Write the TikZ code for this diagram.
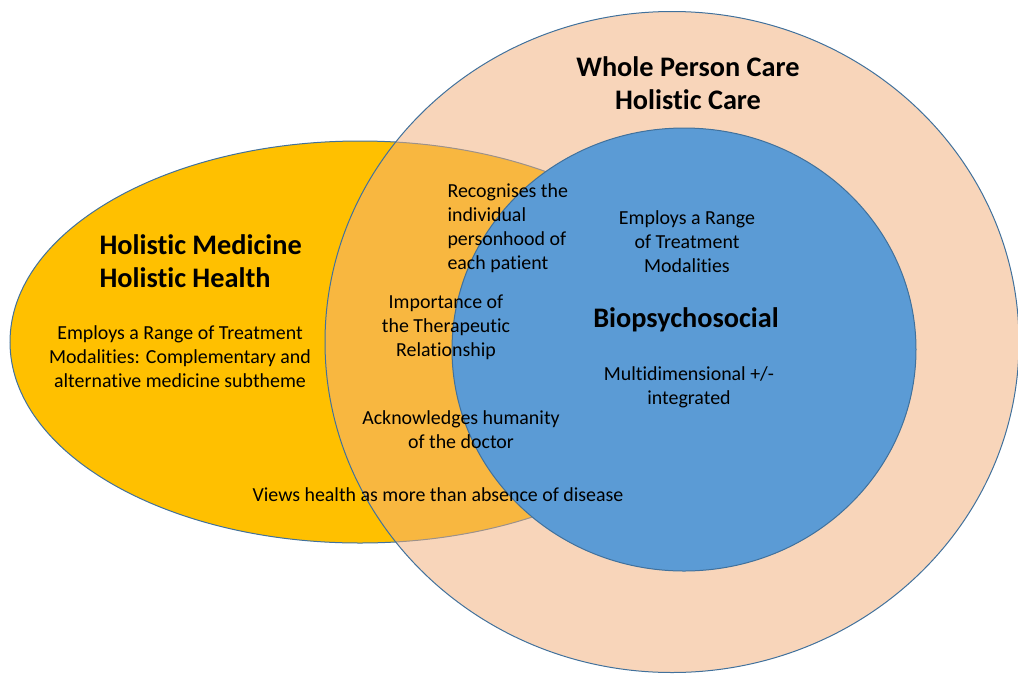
\documentclass[tikz,border=0pt]{standalone}
\usepackage{fontspec}
\setmainfont{Carlito}[Ligatures={NoCommon}]
\usepackage{tikz}
\usetikzlibrary{shapes}

\definecolor{medyellow}{HTML}{FFC000}
\definecolor{carepeach}{HTML}{F2AF7B}
\definecolor{bioblue}{HTML}{5B9BD5}
\definecolor{rimblue}{HTML}{41719C}

\begin{document}
\begin{tikzpicture}[x=1pt, y=-1pt,
    area/.style={ellipse, draw=rimblue, line width=1pt, inner sep=0pt, outer sep=0pt},
    heading/.style={font=\fontsize{28.3}{33}\selectfont\bfseries, align=center},
    txt/.style={font=\fontsize{19.9}{24}\selectfont, align=center}]

    \useasboundingbox (0,0) rectangle (1018,673);

    % Holistic Medicine
    \node[area, fill=medyellow, minimum width=700pt, minimum height=402pt] (medicine) at (360,342) {};

    % Whole Person Care
    \node[area, fill=carepeach, fill opacity=0.52, minimum width=694pt, minimum height=661pt] (whole) at (672,342) {};

    % Biopsychosocial
    \node[area, fill=bioblue, minimum width=464pt, minimum height=443pt] (bio) at (684,349.5) {};

    % Headings
    \node[heading, align=left, anchor=west] (medtitle) at (96,261) {Holistic Medicine\\Holistic Health};
    \node[heading] (wholetitle) at (688,83.5) {Whole Person Care\\Holistic Care};
    \node[heading] (biotitle) at (686,320) {Biopsychosocial};

    % Themes
    \node[txt] (cam) at (180,357) {Employs a Range of Treatment\\Modalities: Complementary and\\alternative medicine subtheme};
    \node[txt, align=left, anchor=west] (person) at (444,228.5) {Recognises the\\individual\\personhood of\\each patient};
    \node[txt] (range) at (687,242) {Employs a Range\\of Treatment\\Modalities};
    \node[txt] (therapy) at (446,327) {Importance of\\the Therapeutic\\Relationship};
    \node[txt] (multi) at (689,387) {Multidimensional +/-\\integrated};
    \node[txt] (doctor) at (461,430) {Acknowledges humanity\\of the doctor};
    \node[txt] (views) at (438,495) {Views health as more than absence of disease};

\end{tikzpicture}
\end{document}
